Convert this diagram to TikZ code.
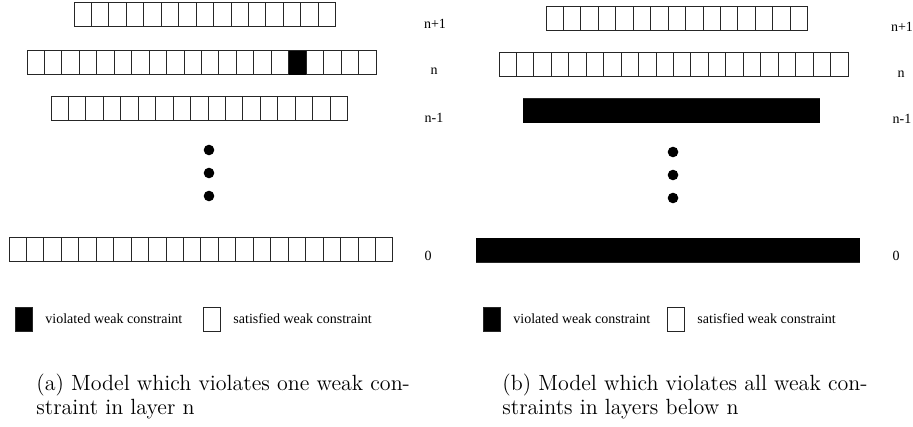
\documentclass[tikz,border=0pt]{standalone}
\usepackage{fontspec}
\usepackage{tikz}
\usetikzlibrary{positioning}
\newfontfamily\timesfont{Liberation Serif}

% one layer of weak constraints: name, left x, top y, number of cells
\newcommand{\cellrow}[4]{%
	\foreach \k in {1,...,#4}
		\node[cell] (#1-\k) at ({#2+(\k-1)*17.45}, #3) {};
}

\begin{document}
\begin{tikzpicture}[x=0.5pt, y=-0.5pt, node distance=6.3pt]
	\tikzstyle{cell} = [draw=black!85, line width=0.5pt, anchor=north west, minimum width=8.725pt, minimum height=12pt, inner sep=0pt, outer sep=0pt]
	\tikzstyle{dot} = [fill, circle, minimum size=5.3pt, inner sep=0pt]
	\tikzstyle{lbl} = [inner sep=0pt, font=\timesfont\fontsize{7}{8}\selectfont]
	\tikzstyle{capt} = [inner sep=0pt, align=left, anchor=north west, font=\fontsize{11}{11.65}\selectfont]

	\useasboundingbox (0,0) rectangle (913,427);

	% (a) a single violated constraint in layer n
	\begin{scope}
		\cellrow{a5}{74}{3}{15}
		\cellrow{a4}{27}{51}{20}
		\cellrow{a3}{51}{97}{17}
		\cellrow{a0}{9}{237}{22}
		\fill (a4-16.north west) rectangle (a4-16.south east);

		\node[lbl] (a-l5) at (435,24) {n+1};
		\node[lbl] (a-l4) at (434,71) {n};
		\node[lbl] (a-l3) at (434,118) {n-1};
		\node[lbl] (a-l0) at (428,256) {0};

		\node[dot] (a-d1) at (209,150) {};
		\node[dot] (a-d2) at (209,173) {};
		\node[dot] (a-d3) at (209,196) {};

		\node[cell, fill=black] (a-viol) at (15,307) {};
		\node[lbl, right=of a-viol] (a-violtxt) {violated weak constraint};
		\node[cell] (a-sat) at (203,307) {};
		\node[lbl, right=of a-sat] (a-sattxt) {satisfied weak constraint};

		\node[capt] (a-cap) at (36,374) {(a) Model which violates one weak con-\\straint in layer n};
	\end{scope}

	% (b) every constraint below layer n violated
	\begin{scope}
		\cellrow{b5}{546}{7}{15}
		\cellrow{b4}{499}{53}{20}
		\cellrow{b3}{523}{99}{17}
		\cellrow{b0}{476}{238}{22}
		\fill (b3-1.north west) rectangle (b3-17.south east);
		\fill (b0-1.north west) rectangle (b0-22.south east);

		\node[lbl] (b-l5) at (902,27) {n+1};
		\node[lbl] (b-l4) at (901,74) {n};
		\node[lbl] (b-l3) at (902,119) {n-1};
		\node[lbl] (b-l0) at (896,256) {0};

		\node[dot] (b-d1) at (673,152) {};
		\node[dot] (b-d2) at (673,175) {};
		\node[dot] (b-d3) at (673,198) {};

		\node[cell, fill=black] (b-viol) at (483,307) {};
		\node[lbl, right=of b-viol] (b-violtxt) {violated weak constraint};
		\node[cell] (b-sat) at (667,307) {};
		\node[lbl, right=of b-sat] (b-sattxt) {satisfied weak constraint};

		\node[capt] (b-cap) at (502,374) {(b) Model which violates all weak con-\\straints in layers below n};
	\end{scope}
\end{tikzpicture}
\end{document}
